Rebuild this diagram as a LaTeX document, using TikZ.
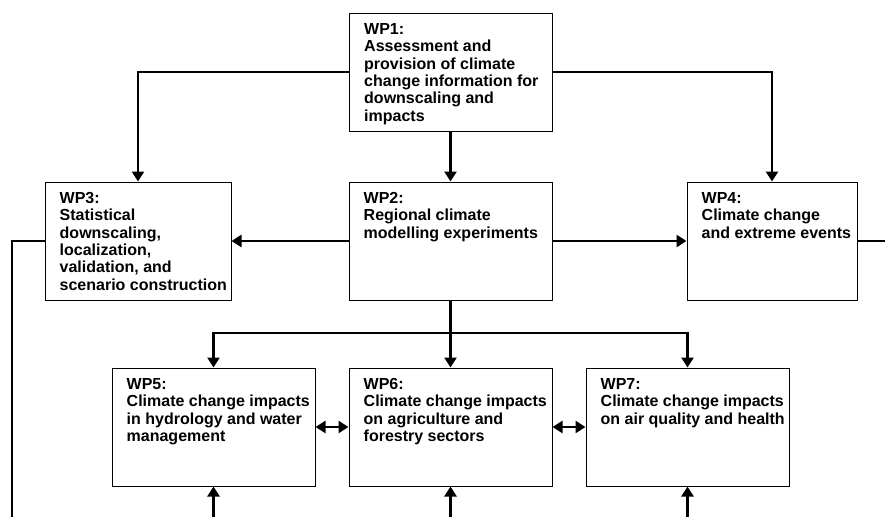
\documentclass[tikz,border=0pt]{standalone}
\usepackage{fontspec}
\setmainfont{Liberation Sans}
\usepackage{tikz}
\usetikzlibrary{calc}
\usetikzlibrary{arrows.meta,positioning}
\tikzset{>={Triangle[length=10pt,width=12pt]}}
\tikzset{wpbox/.style={draw,line width=1pt,inner sep=0pt,minimum height=118pt},
  wptext/.style={anchor=north west,align=left,inner sep=0pt,font=\fontsize{16}{17.4}\selectfont\bfseries},
  flow/.style={line width=2.6pt}}

\begin{document}
\begin{tikzpicture} [x=1pt,y=-1pt]
\useasboundingbox (0,0) rectangle (885,517);
\node [wpbox,minimum width=203pt] (wp1) at (450.5,72) {};
\node [wpbox,minimum width=203pt] (wp2) at (450.5,241) {};
\node [wpbox,minimum width=186pt] (wp3) at (138,241) {};
\node [wpbox,minimum width=170pt] (wp4) at (772,241) {};
\node [wpbox,minimum width=203pt] (wp5) at (213.5,427) {};
\node [wpbox,minimum width=203pt] (wp6) at (450.5,427) {};
\node [wpbox,minimum width=203pt] (wp7) at (687.5,427) {};
\node [wptext] (wp1txt) at ([shift={(15.5pt,-10.5pt)}]wp1.north west) {WP1:\\Assessment and\\provision of climate\\change information for\\downscaling and\\impacts};
\node [wptext] (wp2txt) at ([shift={(15pt,-10.5pt)}]wp2.north west) {WP2:\\Regional climate\\modelling experiments};
\node [wptext] (wp3txt) at ([shift={(15pt,-10.5pt)}]wp3.north west) {WP3:\\Statistical\\downscaling,\\localization,\\validation, and\\scenario construction};
\node [wptext] (wp4txt) at ([shift={(15pt,-10.5pt)}]wp4.north west) {WP4:\\Climate change\\and extreme events};
\node [wptext] (wp5txt) at ([shift={(15pt,-10.5pt)}]wp5.north west) {WP5:\\Climate change impacts\\in hydrology and water\\management};
\node [wptext] (wp6txt) at ([shift={(15pt,-10.5pt)}]wp6.north west) {WP6:\\Climate change impacts\\on agriculture and\\forestry sectors};
\node [wptext] (wp7txt) at ([shift={(15pt,-10.5pt)}]wp7.north west) {WP7:\\Climate change impacts\\on air quality and health};
\coordinate (split) at (450.5,333);
\coordinate (outleft) at (12,517);
\coordinate (outright) at (885,241);
\coordinate (in5) at (213.5,517);
\coordinate (in6) at (450.5,517);
\coordinate (in7) at (687.5,517);
\draw [flow,->] (wp1.west) -| (wp3.north);
\draw [flow,->] (wp1.east) -| (wp4.north);
\draw [flow,->] (wp1.south) -- (wp2.north);
\draw [flow,->] (wp2.west) -- (wp3.east);
\draw [flow,->] (wp2.east) -- (wp4.west);
\draw [flow] (wp2.south) -- (split);
\draw [flow,->] (split) -| (wp5.north);
\draw [flow,->] (split) -- (wp6.north);
\draw [flow,->] (split) -| (wp7.north);
\draw [flow,<->] (wp5.east) -- (wp6.west);
\draw [flow,<->] (wp6.east) -- (wp7.west);
\draw [flow,->] (in5) -- (wp5.south);
\draw [flow,->] (in6) -- (wp6.south);
\draw [flow,->] (in7) -- (wp7.south);
\draw [flow] (wp3.west) -| (outleft);
\draw [flow] (wp4.east) -- (outright);
\end{tikzpicture}
\end{document}
